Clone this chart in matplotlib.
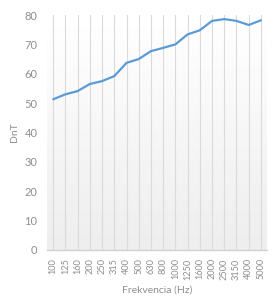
import matplotlib
matplotlib.use("Agg")
import matplotlib.pyplot as plt
import numpy as np

freqs = ["100", "125", "160", "200", "250", "315", "400", "500", "630", "800",
         "1000", "1250", "1600", "2000", "2500", "3150", "4000", "5000"]
dnt = [51.3, 53.0, 54.1, 56.5, 57.5, 59.2, 63.7, 65.0, 67.7, 68.8,
       70.0, 73.4, 74.8, 78.0, 78.6, 78.0, 76.6, 78.2]
yticks = [0, 10, 20, 30, 40, 50, 60, 70, 80]

plt.rcParams['font.family'] = ['Lato', 'DejaVu Sans']
txt = '#8e8e8e'

fig = plt.figure(figsize=(2.77, 3.0), dpi=100)
ax = fig.add_axes([0.170, 0.1667, 0.794, 0.7833])

x = np.arange(len(freqs))
ax.set_xlim(-0.5, len(freqs) - 0.5)
ax.set_ylim(0, 80)

# gradient background
grad = np.linspace(0.93, 1.0, 256).reshape(-1, 1)
ax.imshow(grad, extent=[-0.5, len(freqs) - 0.5, 0, 80], origin='lower',
          cmap='gray', vmin=0, vmax=1, aspect='auto', zorder=0)

for xi in x:
    ax.axvline(xi, color='#dadada', lw=0.8, zorder=1)

ax.plot(x, dnt, color='#5b9bd5', lw=1.6, zorder=3, solid_capstyle='round')

for s in ['top', 'right', 'left']:
    ax.spines[s].set_visible(False)
ax.spines['bottom'].set_color('#d0d0d0')
ax.spines['bottom'].set_linewidth(1.0)

ax.set_yticks(yticks)
ax.set_yticklabels([str(v) for v in yticks], color=txt, fontsize=8)
ax.set_xticks(x)
ax.set_xticklabels(freqs, rotation=90, color=txt, fontsize=6.6)
ax.tick_params(axis='y', length=0, pad=7)
ax.tick_params(axis='x', length=0, pad=6)

ax.set_xlabel('Frekvencia (Hz)', color=txt, fontsize=7.5, labelpad=4)
ax.set_ylabel('DnT', color=txt, fontsize=7.5, labelpad=4)

fig.savefig('out.png', dpi=100)
